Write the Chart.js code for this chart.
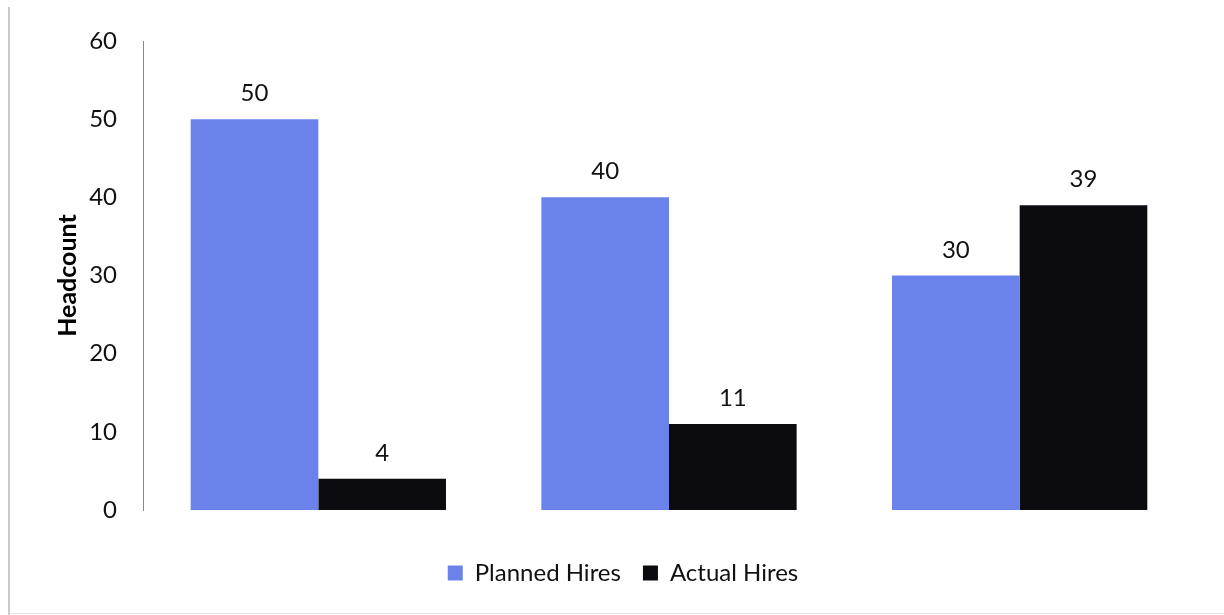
<!DOCTYPE html>
<html>
<head>
<meta charset="utf-8">
<script src="https://cdn.jsdelivr.net/npm/chart.js@4/dist/chart.umd.min.js"></script>
<style>
  html, body { margin: 0; padding: 0; background: #fff; }
  #wrap { width: 1224px; height: 615px; position: relative; }
</style>
</head>
<body>
<div id="wrap"><canvas id="c" width="1224" height="615"></canvas></div>
<script>
// Hiring plan vs. actual, three periods (unlabelled on the axis)
const categories = ['', ' ', '  '];
const plannedHires = [50, 40, 30];
const actualHires = [4, 11, 39];
const yTicks = [0, 10, 20, 30, 40, 50, 60];

const FONT = 'Lato, "Open Sans", sans-serif';

// Value labels above each bar
const valueLabels = {
  id: 'valueLabels',
  afterDatasetsDraw(chart) {
    const ctx = chart.ctx;
    ctx.save();
    ctx.font = '24px ' + FONT;
    ctx.fillStyle = '#111';
    ctx.textAlign = 'center';
    ctx.textBaseline = 'alphabetic';
    chart.data.datasets.forEach((ds, i) => {
      const meta = chart.getDatasetMeta(i);
      meta.data.forEach((el, j) => {
        ctx.fillText(String(ds.data[j]), el.x, el.y - 18);
      });
    });
    ctx.restore();
  }
};

// Thin outer frame on the left and bottom of the chart box
const frame = {
  id: 'frame',
  beforeDraw(chart) {
    const ctx = chart.ctx;
    ctx.save();
    ctx.strokeStyle = '#b8b8b8';
    ctx.lineWidth = 1.5;
    ctx.beginPath();
    ctx.moveTo(9, 7);
    ctx.lineTo(9, 615);
    ctx.stroke();
    ctx.strokeStyle = '#e2e2e2';
    ctx.lineWidth = 1;
    ctx.beginPath();
    ctx.moveTo(9, 613.5);
    ctx.lineTo(1224, 613.5);
    ctx.stroke();
    ctx.restore();
  }
};

new Chart(document.getElementById('c'), {
  type: 'bar',
  data: {
    labels: categories,
    datasets: [
      {
        label: 'Planned Hires',
        data: plannedHires,
        backgroundColor: '#6a82ea',
        categoryPercentage: 0.728,
        barPercentage: 1.0
      },
      {
        label: 'Actual Hires',
        data: actualHires,
        backgroundColor: '#0b0b10',
        categoryPercentage: 0.728,
        barPercentage: 1.0
      }
    ]
  },
  options: {
    responsive: false,
    animation: false,
    events: [],
    layout: { padding: { left: 51, right: 29, top: 41, bottom: 20 } },
    plugins: {
      legend: {
        position: 'bottom',
        labels: {
          font: { family: FONT, size: 24 },
          color: '#111',
          boxWidth: 15,
          boxHeight: 15,
          padding: 22
        }
      },
      tooltip: { enabled: false }
    },
    scales: {
      x: {
        display: true,
        grid: { display: false },
        border: { display: false },
        ticks: { display: false },
        afterFit(scale) { scale.height = 29; }
      },
      y: {
        min: 0,
        max: 60,
        afterBuildTicks(scale) { scale.ticks = yTicks.map(v => ({ value: v })); },
        afterFit(scale) { scale.width = 92; },
        grid: { display: false, drawTicks: false },
        border: { display: true, color: '#8a8a8a', width: 1 },
        ticks: {
          font: { family: FONT, size: 24 },
          color: '#111',
          padding: 26
        },
        title: {
          display: true,
          text: 'Headcount',
          font: { family: FONT, size: 25, weight: 'bold' },
          color: '#000',
          padding: { top: 2, bottom: 0 }
        }
      }
    }
  },
  plugins: [valueLabels, frame]
});
</script>
</body>
</html>
